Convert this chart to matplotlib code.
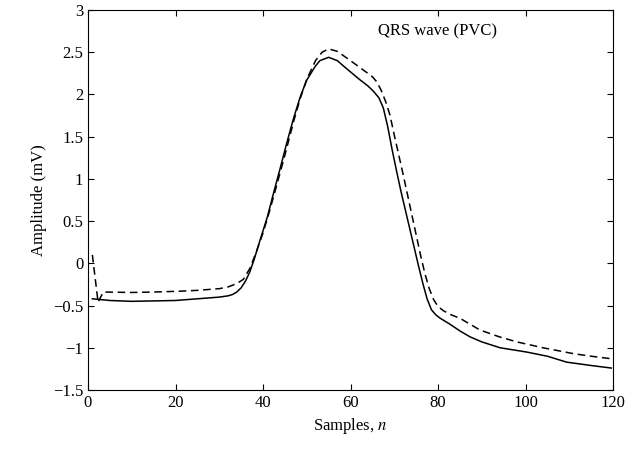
import numpy as np
import matplotlib.pyplot as plt

plt.rcParams['font.family'] = ['Liberation Serif', 'DejaVu Serif']
plt.rcParams['mathtext.fontset'] = 'stix'

# sample index and amplitudes (mV)
n_solid = [1, 5, 10, 15, 20, 25, 30, 32, 33, 34, 35, 36, 37, 38, 39.3, 41, 42.4, 44,
           45.4, 47, 48.5, 50, 51.9, 53, 55, 57, 59, 62, 64, 65.2, 66.5, 67.5, 68.5,
           69.5, 70.5, 71.5, 72.5, 73.5, 74.5, 75.5, 76.5, 77.5, 78.5, 79.5, 80.5,
           82.7, 85, 87.3, 90, 94.2, 100.2, 105, 109.4, 115, 119.6]
qrs_solid = [-0.42, -0.44, -0.45, -0.445, -0.44, -0.42, -0.40, -0.385, -0.37, -0.34,
             -0.29, -0.21, -0.10, 0.05, 0.27, 0.55, 0.83, 1.14, 1.42, 1.72, 1.97,
             2.17, 2.33, 2.40, 2.44, 2.40, 2.31, 2.18, 2.10, 2.04, 1.96, 1.84, 1.62,
             1.35, 1.10, 0.86, 0.64, 0.42, 0.20, -0.02, -0.23, -0.42, -0.55, -0.61,
             -0.65, -0.72, -0.80, -0.87, -0.93, -1.00, -1.05, -1.10, -1.17, -1.21,
             -1.24]

n_dash = [1, 2.3, 3.5, 10, 15, 21, 25, 30, 32, 34, 35.5, 37, 38.5, 40, 41.5, 43, 45,
          47, 48.5, 50, 52, 53.5, 55, 57, 60, 63.7, 65, 66, 67, 68, 69, 70, 71, 72,
          73, 74, 75, 76, 77, 78, 79, 80, 81.2, 83, 85, 89.6, 94, 98, 104, 111, 115,
          119.6]
qrs_dash = [0.10, -0.46, -0.34, -0.345, -0.34, -0.33, -0.32, -0.30, -0.28, -0.24,
            -0.19, -0.06, 0.14, 0.36, 0.62, 0.90, 1.28, 1.68, 1.95, 2.18, 2.40, 2.50,
            2.54, 2.51, 2.40, 2.26, 2.21, 2.15, 2.05, 1.92, 1.76, 1.52, 1.29, 1.06,
            0.82, 0.58, 0.34, 0.10, -0.12, -0.30, -0.43, -0.51, -0.56, -0.61, -0.65,
            -0.79, -0.87, -0.93, -1.00, -1.07, -1.10, -1.13]

fig = plt.figure(figsize=(6.31, 4.51), dpi=100)
ax = fig.add_axes([88 / 631, 61 / 451, 525 / 631, 380 / 451])

ax.plot(n_solid, qrs_solid, 'k-', lw=1.1)
ax.plot(n_dash, qrs_dash, 'k--', lw=1.1, dashes=(5, 3))

ax.set_xlim(0, 120)
ax.set_ylim(-1.5, 3)
ax.set_xticks(np.arange(0, 121, 20))
ax.set_yticks(np.arange(-1.5, 3.01, 0.5))
ax.set_yticklabels(['\u22121.5', '\u22121', '\u22120.5', '0', '0.5', '1', '1.5', '2', '2.5', '3'])
ax.tick_params(direction='in', top=True, right=True, labelsize=12, length=4)

ax.set_xlabel('Samples, $n$', fontsize=12)
ax.set_ylabel('Amplitude (mV)', fontsize=12)
ax.text(80, 2.75, 'QRS wave (PVC)', fontsize=12, ha='center', va='center')

fig.savefig('out.png', dpi=100)
